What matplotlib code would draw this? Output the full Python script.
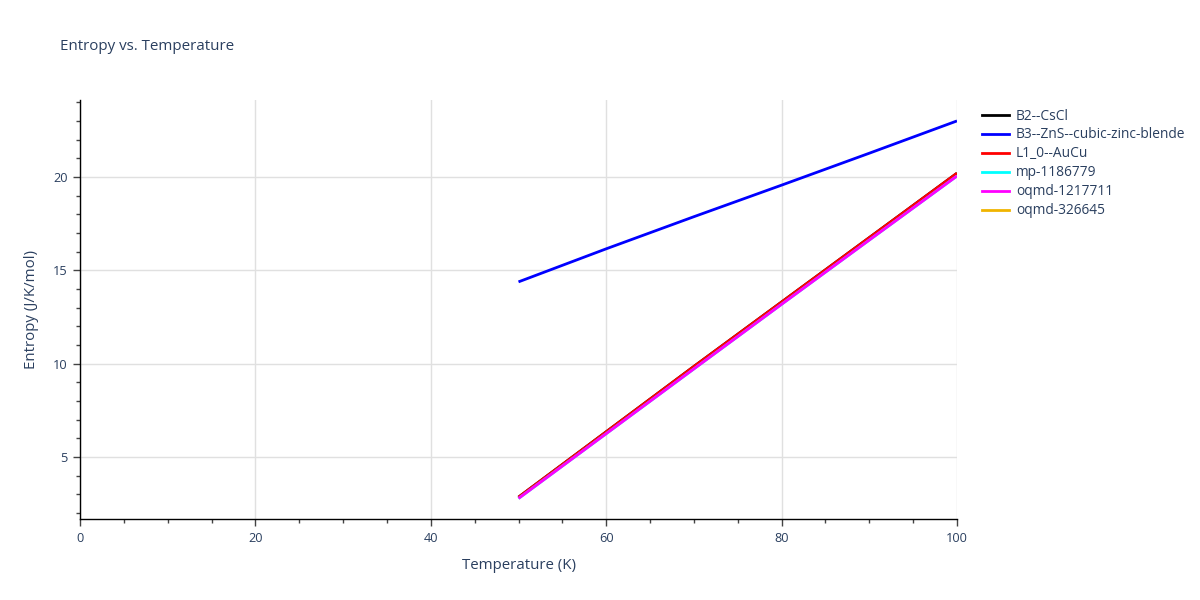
import matplotlib
matplotlib.use("Agg")
import matplotlib.pyplot as plt
from matplotlib.ticker import MultipleLocator
from matplotlib.lines import Line2D

plt.rcParams['font.family'] = ['Open Sans', 'DejaVu Sans']

temperature = [50, 60, 70, 80, 90, 100]
series_names = ["B2--CsCl", "B3--ZnS--cubic-zinc-blende", "L1_0--AuCu",
                "mp-1186779", "oqmd-1217711", "oqmd-326645"]
series_colors = ["#000000", "#0000ff", "#ff0000", "#00ffff", "#ff00ff", "#f0b400"]
entropy_b2 = [2.85, 6.35, 9.85, 13.30, 16.75, 20.20]
entropy_b3 = [14.38, 16.15, 17.87, 19.56, 21.27, 23.00]
entropy_l10 = [2.85, 6.35, 9.85, 13.30, 16.75, 20.20]
entropy_mp = [2.78, 6.25, 9.72, 13.18, 16.62, 20.05]
entropy_oqmd1217711 = [2.78, 6.25, 9.72, 13.18, 16.62, 20.05]
entropy_oqmd326645 = []
all_values = [entropy_b2, entropy_b3, entropy_l10, entropy_mp,
              entropy_oqmd1217711, entropy_oqmd326645]

text_color = "#2a3f5f"
fig = plt.figure(figsize=(12, 6), dpi=100)
ax = fig.add_axes([80/1200, 1-519/600, (957-80)/1200, (519-100)/600])

handles = []
for name, color, vals in zip(series_names, series_colors, all_values):
    xs = temperature[:len(vals)]
    ax.plot(xs, vals, color=color, lw=2, solid_capstyle='butt')
    handles.append(Line2D([0], [0], color=color, lw=2))

ax.set_xlim(0, 100)
ax.set_ylim(1.68, 24.12)
ax.xaxis.set_major_locator(MultipleLocator(20))
ax.xaxis.set_minor_locator(MultipleLocator(5))
ax.yaxis.set_major_locator(MultipleLocator(5))
ax.yaxis.set_minor_locator(MultipleLocator(1))
ax.grid(True, which='major', color='#e0e0e0', lw=1)
ax.set_axisbelow(True)
for s in ['top', 'right']:
    ax.spines[s].set_visible(False)
for s in ['left', 'bottom']:
    ax.spines[s].set_color('black')
    ax.spines[s].set_linewidth(1)
ax.tick_params(which='major', length=5, width=1, colors=text_color, labelsize=9.2, pad=4)
ax.tick_params(which='minor', length=3, width=1, color='#444444')
ax.tick_params(axis='both', which='both', color='#444444')
ax.set_xlabel("Temperature (K)", color=text_color, fontsize=10.8, labelpad=10)
ax.set_ylabel("Entropy (J/K/mol)", color=text_color, fontsize=10.8, labelpad=10)
fig.text(60/1200, 1-46/600, "Entropy vs. Temperature", color=text_color,
         fontsize=10.9, va='center', ha='left')

leg = fig.legend(handles, series_names, loc='upper left',
                 bbox_to_anchor=(976/1200, 1-103/600), frameon=False,
                 fontsize=9.9, handlelength=2.0, handletextpad=0.5,
                 labelspacing=0.29, borderaxespad=0)
for t in leg.get_texts():
    t.set_color(text_color)

fig.savefig("out.png", dpi=100)
